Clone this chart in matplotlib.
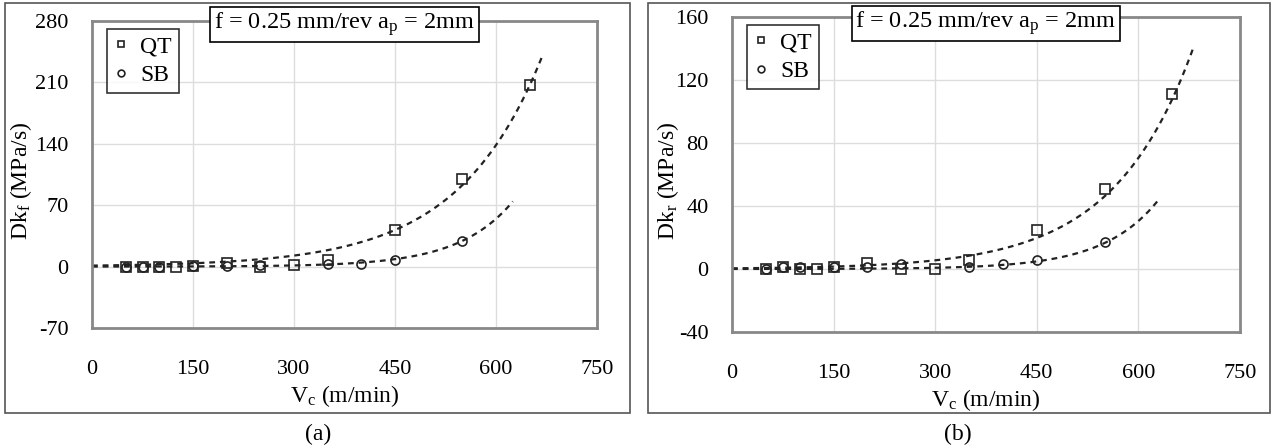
import numpy as np
import matplotlib
matplotlib.use("Agg")
import matplotlib.pyplot as plt
from matplotlib.patches import Rectangle

plt.rcParams["font.family"] = ["Liberation Serif", "DejaVu Serif"]
plt.rcParams["mathtext.fontset"] = "custom"
plt.rcParams["mathtext.rm"] = "Liberation Serif"
plt.rcParams["mathtext.it"] = "Liberation Serif:italic"
plt.rcParams["axes.unicode_minus"] = False

# panel (a): Dk_f
vc_qt_a = [50, 75, 100, 125, 150, 200, 250, 300, 350, 450, 550, 650]
dk_qt_a = [0, 0, 0, 0, 1, 4, 0, 2, 8, 42, 100, 207]
vc_sb_a = [50, 75, 100, 150, 200, 250, 350, 400, 450, 550]
dk_sb_a = [0, 0, 0, 1, 1, 2, 3, 3, 8, 29]
# exponential trendlines y = a*exp(b*x), and where they stop
fit_qt_a = (1.14, 0.0080, 670)
fit_sb_a = (0.032, 0.0124, 625)

# panel (b): Dk_r
vc_qt_b = [50, 75, 100, 125, 150, 200, 250, 300, 350, 450, 550, 650]
dk_qt_b = [0, 1, 0, 0, 1, 4, 0, 0, 6, 25, 51, 111]
vc_sb_b = [50, 75, 100, 150, 200, 250, 350, 400, 450, 550]
dk_sb_b = [0, 1, 1, 1, 1, 3, 1, 3, 6, 17]
fit_qt_b = (0.43, 0.0085, 681)
fit_sb_b = (0.019, 0.0123, 631)

xticks = [0, 150, 300, 450, 600, 750]
yticks_a = [-70, 0, 70, 140, 210, 280]
yticks_b = [-40, 0, 40, 80, 120, 160]

note = "f = 0.25 mm/rev a$_\\mathrm{p}$ = 2mm"

fig = plt.figure(figsize=(12.75, 4.47), dpi=100)
W, H = 1275, 447

# outer panel frames
for x0, x1 in [(5, 630), (648, 1270)]:
    fig.patches.append(Rectangle((x0 / W, 1 - 413 / H), (x1 - x0) / W, 410 / H,
                                 transform=fig.transFigure, fill=False,
                                 edgecolor="#555555", lw=1.2))

ax_a = fig.add_axes([92 / W, 1 - 328 / H, 505 / W, 307 / H])
ax_b = fig.add_axes([732 / W, 1 - 332 / H, 508 / W, 315 / H])


def panel(ax, vq, dq, vs, ds, fq, fs, yticks, ylab, ylab_x, note_y):
    for a, b, xe in (fq, fs):
        xx = np.linspace(0, xe, 200)
        ax.plot(xx, a * np.exp(b * xx), ls=(0, (2.6, 2.2)), color="#222222", lw=1.6, zorder=2)
    ax.plot(vq, dq, ls="none", marker="s", ms=6.5, mfc="none", mec="#222222", mew=1.2,
            label="QT", zorder=3)
    ax.plot(vs, ds, ls="none", marker="o", ms=6.5, mfc="none", mec="#222222", mew=1.2,
            label="SB", zorder=3)
    ax.set_xlim(0, 750)
    ax.set_ylim(yticks[0], yticks[-1])
    ax.set_xticks(xticks)
    ax.set_yticks(yticks)
    ax.grid(True, color="#dddddd", lw=1)
    ax.set_axisbelow(True)
    for s in ax.spines.values():
        s.set_color("#888888")
        s.set_linewidth(2)
    ax.tick_params(length=0, labelsize=16, colors="black")
    ax.tick_params(axis="x", pad=23)
    ax.tick_params(axis="y", pad=17)
    ax.set_xlabel("V$_\\mathrm{c}$ (m/min)", fontsize=17, labelpad=3)
    ax.set_ylabel(ylab, fontsize=17)
    ax.yaxis.set_label_coords(ylab_x, 0.48)
    leg = ax.legend(loc="upper left", bbox_to_anchor=(0.02, 0.99), fontsize=17,
                    frameon=True, fancybox=False, handlelength=0.6, handletextpad=0.5,
                    borderpad=0.3, labelspacing=0.3, markerscale=0.75,
                    borderaxespad=0.2)
    leg.get_frame().set_edgecolor("black")
    leg.get_frame().set_linewidth(1.2)
    ax.text(0.5, note_y, note, transform=ax.transAxes, ha="center", va="center",
            fontsize=17.5, bbox=dict(boxstyle="square,pad=0.15", fc="white", ec="black", lw=1.2),
            zorder=5)


panel(ax_a, vc_qt_a, dk_qt_a, vc_sb_a, dk_sb_a, fit_qt_a, fit_sb_a, yticks_a,
      "Dk$_\\mathrm{f}$ (MPa/s)", -0.115, 0.99)
panel(ax_b, vc_qt_b, dk_qt_b, vc_sb_b, dk_sb_b, fit_qt_b, fit_sb_b, yticks_b,
      "Dk$_\\mathrm{r}$ (MPa/s)", -0.1, 0.98)

fig.text(318 / W, 1 - 434 / H, "(a)", ha="center", va="center", fontsize=17)
fig.text(958 / W, 1 - 434 / H, "(b)", ha="center", va="center", fontsize=17)

fig.savefig("out.png", dpi=100)
